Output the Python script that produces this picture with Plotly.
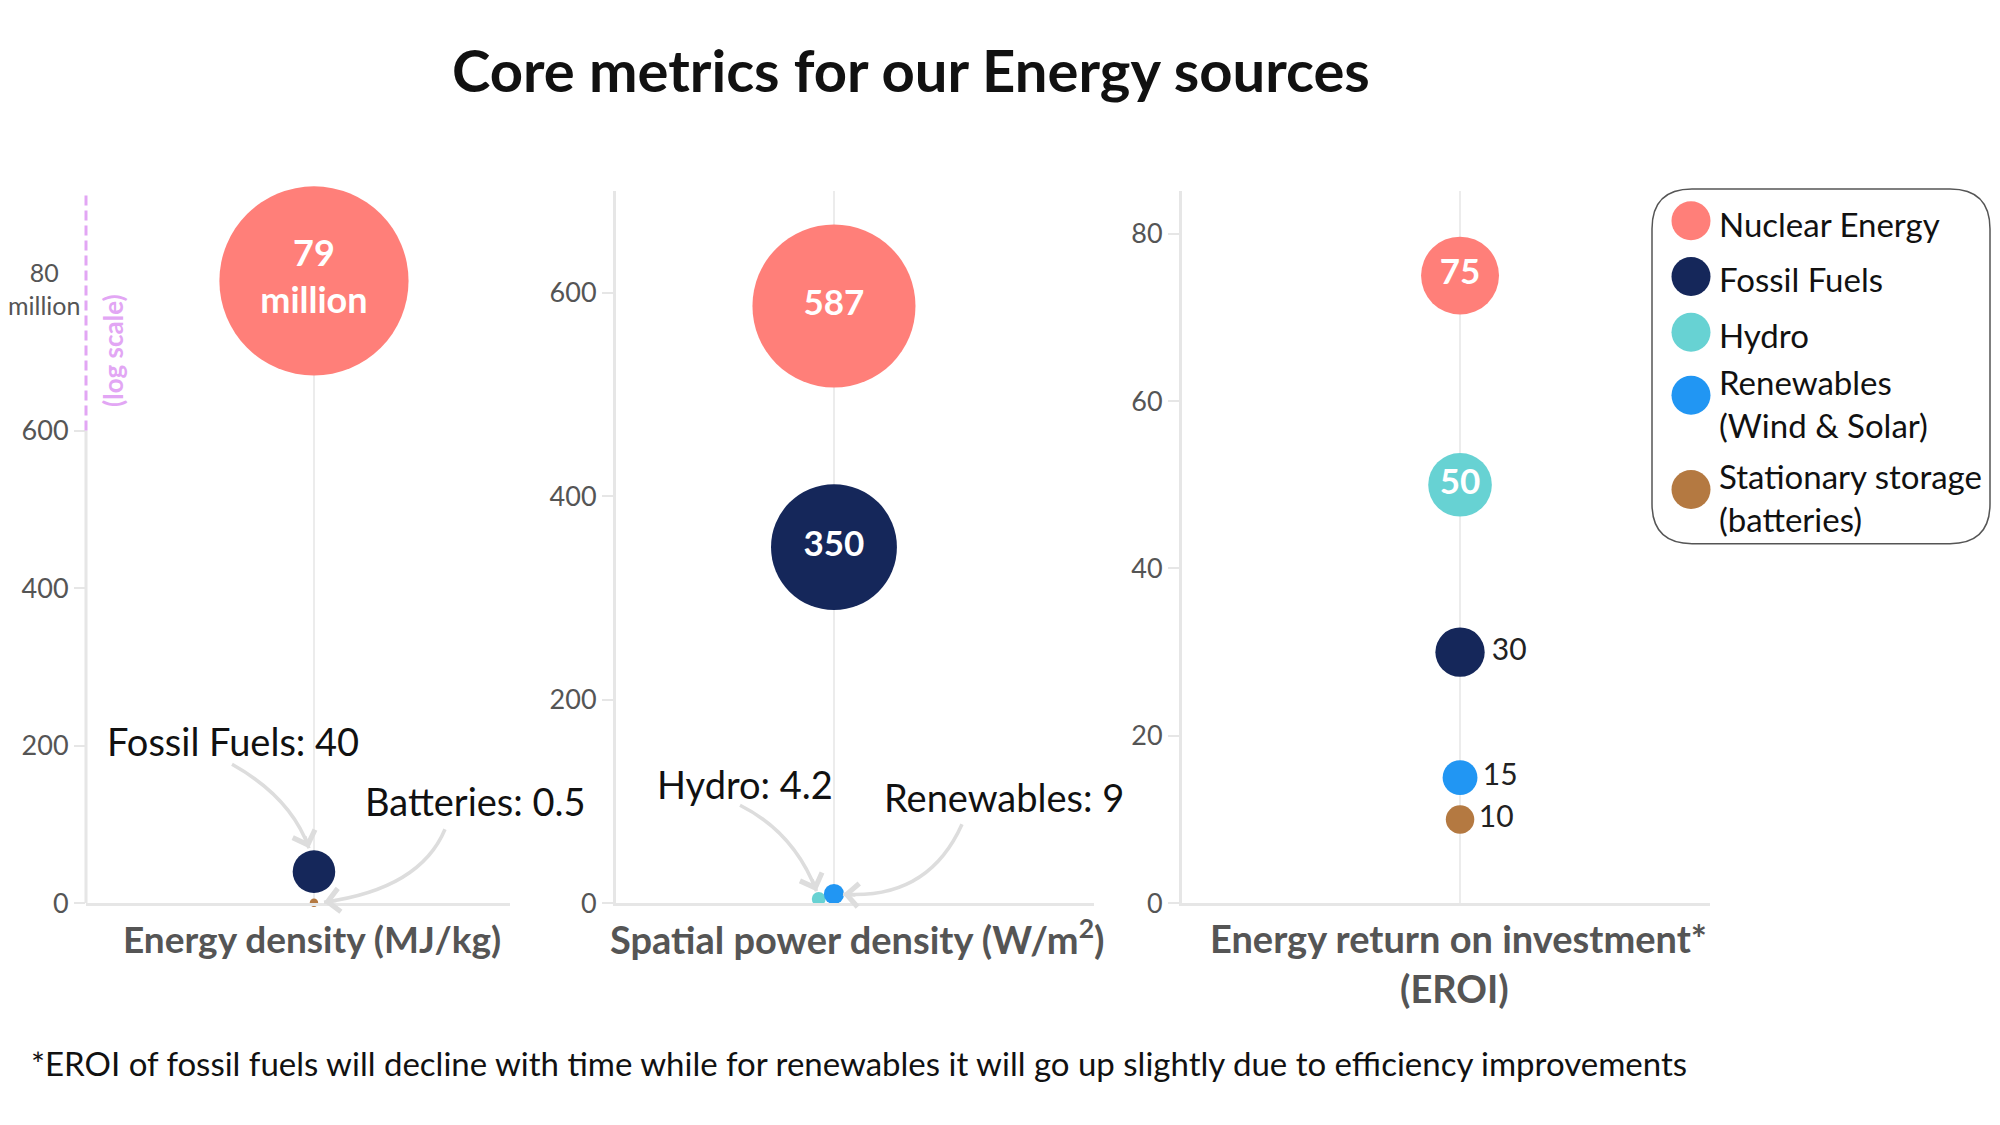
import plotly.graph_objects as go

W, H = 2000, 1125
FONT = "Lato"

# ---------------- data ----------------
categories = ["Nuclear Energy", "Fossil Fuels", "Hydro",
              "Renewables<br>(Wind & Solar)", "Stationary storage<br>(batteries)"]
colors = ["#FF7F79", "#15275A", "#67D2D3", "#2196F3", "#B47941"]

# Panel 1: energy density (MJ/kg) - nuclear sits on the broken (log) upper part of the axis
density_idx = [0, 1, 4]
density_values = [79_000_000, 40, 0.5]
density_plot_values = [790, 40, 0.5]
density_text = ["<b>79<br>million</b>", "", ""]
density_ticks = [0, 200, 400, 600]

# Panel 2: spatial power density (W/m2)
spatial_idx = [0, 1, 2, 3]
spatial_values = [587, 350, 4.2, 9]
spatial_x = [0, 0, -0.07, 0]
spatial_text = ["<b>587</b>", "<b>350</b>", "", ""]
spatial_ticks = [0, 200, 400, 600]

# Panel 3: EROI
eroi_idx = [0, 2, 1, 3, 4]
eroi_values = [75, 50, 30, 15, 10]
eroi_text = ["<b>75</b>", "<b>50</b>", "30", "15", "10"]
eroi_ticks = [0, 20, 40, 60, 80]


# pixel helpers (measured positions -> paper fractions)
def X(x):
    return x - 7


def Y(y):
    return (y - 9.1) / 0.988 + 3.5


def px(x):
    return X(x) / W


def py(y):
    return 1 - Y(y) / H


def P(x, y):
    return f"{px(x):.5f},{py(y):.5f}"


fig = go.Figure()

K12 = 6.73  # diameter = K * sqrt(value)
K3 = 9.0

fig.add_trace(go.Scatter(
    x=[0] * len(density_plot_values), y=density_plot_values, mode="markers+text",
    text=density_text, textposition="middle center",
    textfont=dict(color="white", size=36, family=FONT),
    marker=dict(size=density_plot_values, sizemode="area", sizeref=2 / K12 ** 2, sizemin=4.2,
                color=[colors[i] for i in density_idx], line=dict(width=0), opacity=1),
    cliponaxis=False, showlegend=False, hoverinfo="skip", xaxis="x", yaxis="y"))

fig.add_trace(go.Scatter(
    x=spatial_x, y=spatial_values, mode="markers+text",
    text=spatial_text, textposition="middle center",
    textfont=dict(color="white", size=35, family=FONT),
    marker=dict(size=spatial_values, sizemode="area", sizeref=2 / K12 ** 2,
                color=[colors[i] for i in spatial_idx], line=dict(width=0), opacity=1),
    cliponaxis=False, showlegend=False, hoverinfo="skip", xaxis="x2", yaxis="y2"))

fig.add_trace(go.Scatter(
    x=[0] * len(eroi_values), y=eroi_values, mode="markers+text",
    text=eroi_text,
    textposition=["middle center", "middle center", "middle right", "middle right", "middle right"],
    textfont=dict(color=["white", "white", "#222222", "#222222", "#222222"],
                  size=[35, 35, 30, 30, 30], family=FONT),
    marker=dict(size=eroi_values, sizemode="area", sizeref=2 / K3 ** 2,
                color=[colors[i] for i in eroi_idx], line=dict(width=0), opacity=1),
    cliponaxis=False, showlegend=False, hoverinfo="skip", xaxis="x3", yaxis="y3"))

# legend drawn as its own small subplot
legend_lines = [c.count("<br>") + 1 for c in categories]
legend_text_y, legend_marker_y = [], []
cur = 11.5
for n in legend_lines:
    h = 56.5 + 25 * (n - 1)
    legend_text_y.append(cur + h / 2)
    legend_marker_y.append(cur + h / 2 - 2.75 - 5 * n)
    cur += h + (14 if n > 1 else 0)
fig.add_trace(go.Scatter(
    x=[39] * len(categories), y=legend_marker_y, mode="markers",
    marker=dict(size=39, color=colors, line=dict(width=0)),
    cliponaxis=False, showlegend=False, hoverinfo="skip", xaxis="x4", yaxis="y4"))
fig.add_trace(go.Scatter(
    x=[67] * len(categories), y=legend_text_y, mode="text",
    text=categories, textposition="middle right",
    textfont=dict(color="#111111", size=33, family=FONT),
    cliponaxis=False, showlegend=False, hoverinfo="skip", xaxis="x4", yaxis="y4"))

AX = "#E6E6E6"
GRID = "#ECECEC"
TICKF = dict(family=FONT, size=27, color="#555555")


def xax(dom, rng):
    return dict(domain=[px(dom[0]), px(dom[1])], range=rng, showline=True, linecolor=AX, linewidth=3,
                tickvals=[0], showticklabels=False, ticks="", showgrid=True, gridcolor=GRID,
                gridwidth=2, zeroline=False, fixedrange=True)


def yax(rng, ticks, showline=True):
    return dict(domain=[py(902), py(189)], range=rng, showline=showline, linecolor=AX, linewidth=3,
                tickvals=ticks, ticktext=[str(t) for t in ticks], ticks="outside", ticklen=11,
                tickwidth=2, tickcolor=AX, tickfont=TICKF, showgrid=False, zeroline=False,
                fixedrange=True)


top1 = 904
lx0, ly0, lx1, ly1 = 1651, 187, 1989, 542
fig.update_layout(
    width=W, height=H, autosize=False,
    margin=dict(l=0, r=0, t=0, b=0, pad=0),
    paper_bgcolor="white", plot_bgcolor="white",
    font=dict(family=FONT, color="#111111"),
    xaxis=xax((85, 509), [-1, 0.86]),
    yaxis=dict(yax([0, top1], density_ticks, showline=False), anchor="x"),
    xaxis2=dict(xax((615, 1093), [-1, 1.193]), anchor="y2"),
    yaxis2=dict(yax([0, 700], spatial_ticks), anchor="x2"),
    xaxis3=dict(xax((1181, 1709), [-1, 0.899]), anchor="y3"),
    yaxis3=dict(yax([0, 85.1], eroi_ticks), anchor="x3"),
    xaxis4=dict(domain=[px(lx0), px(lx1)], range=[0, X(lx1) - X(lx0)], visible=False,
                fixedrange=True, anchor="y4"),
    yaxis4=dict(domain=[py(ly1), py(ly0)], range=[Y(ly1) - Y(ly0), 0], visible=False,
                fixedrange=True, anchor="x4"),
)

shapes = []
# panel 1 axis: solid up to 600, dashed (log scale) above
shapes.append(dict(type="line", xref="x domain", yref="y", x0=0, x1=0, y0=0, y1=density_ticks[-1],
                   line=dict(color=AX, width=3), layer="below"))
shapes.append(dict(type="line", xref="x domain", yref="y", x0=0, x1=0, y0=density_ticks[-1], y1=top1,
                   line=dict(color="#E2A6F4", width=3, dash="10px,5px")))

ARROW = "#DDDDDD"
curves = [
    ((231, 763), (290, 796), (308, 847)),   # Fossil Fuels
    ((444, 828), (419, 888), (323, 901)),   # Batteries
    ((739, 804), (793, 831), (815.5, 890)),  # Hydro
    ((961, 823), (927, 899), (842, 893)),   # Renewables
]
for p0, c, p2 in curves:
    shapes.append(dict(type="path", xref="paper", yref="paper",
                       path=f"M {P(*p0)} Q {P(*c)} {P(*p2)}",
                       line=dict(color=ARROW, width=3.5)))

# rounded legend box
r = 40
x0, y0, x1, y1 = lx0, ly0, lx1, ly1
box = (f"M {P(x0 + r, y0)} L {P(x1 - r, y0)} Q {P(x1, y0)} {P(x1, y0 + r)} "
       f"L {P(x1, y1 - r)} Q {P(x1, y1)} {P(x1 - r, y1)} L {P(x0 + r, y1)} "
       f"Q {P(x0, y1)} {P(x0, y1 - r)} L {P(x0, y0 + r)} Q {P(x0, y0)} {P(x0 + r, y0)} Z")
shapes.append(dict(type="path", xref="paper", yref="paper", path=box,
                   line=dict(color="#555555", width=1.5)))
fig.update_layout(shapes=shapes)

ann = []
ann.append(dict(text="<b>Core metrics for our Energy sources</b>", x=px(910), y=py(67),
                xref="paper", yref="paper", showarrow=False, xanchor="center", yanchor="middle",
                font=dict(size=58, color="#111111", family=FONT)))
ann.append(dict(text="*EROI of fossil fuels will decline with time while for renewables it will go up slightly due to efficiency improvements",
                x=px(28), y=py(1062), xref="paper", yref="paper", showarrow=False,
                xanchor="left", yanchor="middle", font=dict(size=33, color="#111111", family=FONT)))
# axis titles
for txt, cx, cy, fs in [("<b>Energy density (MJ/kg)</b>", 311, 937, 37),
                        ("<b>Spatial power density (W/m<sup>2</sup>)</b>", 856, 936, 38),
                        ("<b>Energy return on investment*</b>", 1457, 937, 38),
                        ("<b>(EROI)</b>", 1453, 987, 38)]:
    ann.append(dict(text=txt, x=px(cx), y=py(cy), xref="paper", yref="paper", showarrow=False,
                    xanchor="center", yanchor="middle", font=dict(size=fs, color="#555555", family=FONT)))
# value callouts
for txt, cx, cy in [("Fossil Fuels: 40", 232, 740), ("Batteries: 0.5", 474, 800),
                    ("Hydro: 4.2", 744, 783), ("Renewables: 9", 1003, 796)]:
    ann.append(dict(text=txt, x=px(cx), y=py(cy), xref="paper", yref="paper", showarrow=False,
                    xanchor="center", yanchor="middle", font=dict(size=38, color="#111111", family=FONT)))
# arrowheads
for (p0, c, p2) in curves:
    dx, dy = p2[0] - c[0], p2[1] - c[1]
    L = (dx ** 2 + dy ** 2) ** 0.5
    ann.append(dict(text="", x=px(p2[0]), y=py(p2[1]), xref="paper", yref="paper", showarrow=True,
                    ax=-dx / L * 14, ay=-dy / L * 14, arrowhead=4, arrowsize=1.3, arrowwidth=3.5,
                    arrowcolor=ARROW, standoff=0, startstandoff=0))
# broken-axis label and log-scale note
ann.append(dict(text="80<br>million", x=px(43), y=density_plot_values[0], xref="paper", yref="y",
                yshift=-8, showarrow=False, xanchor="center", yanchor="middle",
                font=dict(size=25, color="#555555", family=FONT)))
ann.append(dict(text="<b>(log scale)</b>", x=px(112), y=py(349), xref="paper", yref="paper",
                showarrow=False, textangle=-90, xanchor="center", yanchor="middle",
                font=dict(size=26, color="#E2A6F4", family=FONT)))
fig.update_layout(annotations=ann)

fig.write_html("out.html")
